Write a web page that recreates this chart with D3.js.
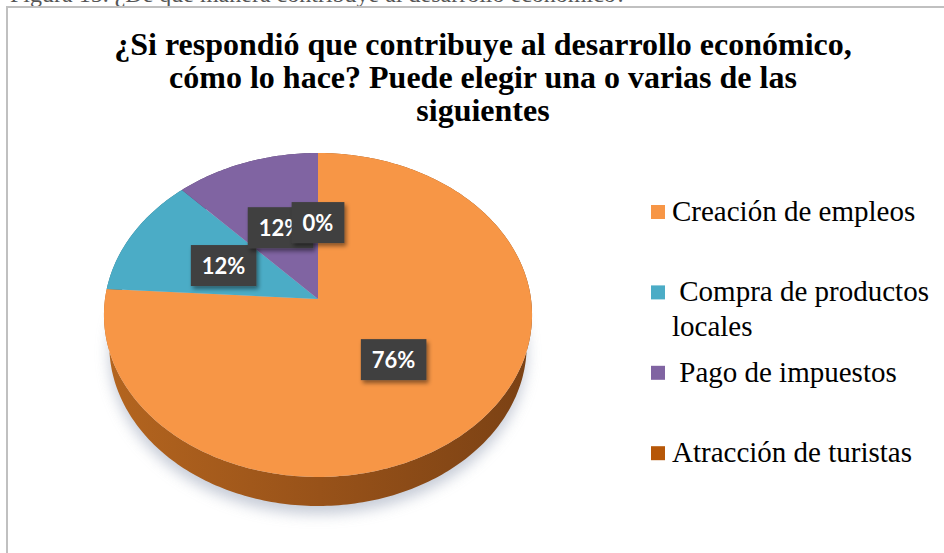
<!DOCTYPE html>
<html>
<head>
<meta charset="utf-8">
<script src="https://cdn.jsdelivr.net/npm/d3@7"></script>
<style>
  body { margin: 0; background: #fff; }
  svg { display: block; }
</style>
</head>
<body>
<div id="chart"></div>
<script>
// data
var categories = ["Creación de empleos", " Compra de productos locales", " Pago de impuestos", "Atracción de turistas"];
var values = [76, 12, 12, 0];
var colors = ["#F79646", "#4BACC6", "#8064A2", "#B65708"];
var titleLines = ["¿Si respondió que contribuye al desarrollo económico,", "cómo lo hace? Puede elegir una o varias de las", "siguientes"];
var captionText = "Figura 15. ¿De qué manera contribuye al desarrollo económico?";

var W = 944, H = 553;
var SERIF = "'Liberation Serif', 'Times New Roman', serif";

var svg = d3.select("#chart").append("svg")
  .attr("width", W).attr("height", H);

var defs = svg.append("defs");

// soft shadow under the pie
var fShadow = defs.append("filter").attr("id", "pieShadow")
  .attr("x", "-20%").attr("y", "-20%").attr("width", "140%").attr("height", "140%");
fShadow.append("feGaussianBlur").attr("stdDeviation", 7);

// drop shadow of the label boxes
var fBox = defs.append("filter").attr("id", "boxShadow")
  .attr("x", "-30%").attr("y", "-30%").attr("width", "160%").attr("height", "160%");
fBox.append("feDropShadow").attr("dx", 2).attr("dy", 3).attr("stdDeviation", 2)
  .attr("flood-color", "#000").attr("flood-opacity", 0.45);

var gWall = defs.append("linearGradient").attr("id", "wallGrad")
  .attr("gradientUnits", "userSpaceOnUse")
  .attr("x1", 105).attr("x2", 535).attr("y1", 0).attr("y2", 0);
gWall.append("stop").attr("offset", 0).attr("stop-color", "#b4651f");
gWall.append("stop").attr("offset", 0.5).attr("stop-color", "#985219");
gWall.append("stop").attr("offset", 1).attr("stop-color", "#7a4114");

// caption of the figure, cut off by the top of the picture
svg.append("text")
  .attr("x", 10).attr("y", 2)
  .style("font-family", SERIF)
  .style("font-size", "24px")
  .attr("fill", "#555")
  .text(captionText);

// chart area border
svg.append("rect")
  .attr("x", 7).attr("y", 7)
  .attr("width", 1200).attr("height", 1200)
  .attr("fill", "#fff")
  .attr("stroke", "#c0c0c0").attr("stroke-width", 2);

// title
svg.append("g").selectAll("text")
  .data(titleLines)
  .enter().append("text")
  .attr("x", 483)
  .attr("y", function(d, i) { return 55 + i * 33; })
  .attr("text-anchor", "middle")
  .style("font-family", SERIF)
  .style("font-weight", "bold")
  .style("font-size", "32px")
  .attr("fill", "#000")
  .text(function(d) { return d; });

// 3d pie: a disc seen from above in perspective
var P = {cx: 318, cy: 299, k: 213, sinA: 0.753, cosA: 0.658, rd: 0.15, depth: 0.224};

function project(theta, rho, h) {
  var u = rho * Math.sin(theta), v = rho * Math.cos(theta);
  var up = h * P.cosA + v * P.sinA;
  var z = 1 + (-h * P.sinA + v * P.cosA) * P.rd;
  return [P.cx + P.k * u / z, P.cy - P.k * up / z];
}

function arcPoints(a0, a1, h) {
  var n = Math.max(2, Math.ceil((a1 - a0) / (Math.PI / 180)));
  return d3.range(n + 1).map(function(i) { return project(a0 + (a1 - a0) * i / n, 1, h); });
}

var line = d3.line();
var arcs = d3.pie().sort(null).value(function(d) { return d; })(values);
var total = d3.sum(values);

var gPie = svg.append("g");

// shadow
gPie.append("path")
  .attr("d", line(arcPoints(0, 2 * Math.PI, -P.depth)) + "Z")
  .attr("transform", "translate(0,8)")
  .attr("fill", "#aeb6c6")
  .attr("opacity", 0.7)
  .attr("filter", "url(#pieShadow)");

// side walls (the back ones get covered by the top faces)
gPie.selectAll(".wall")
  .data(arcs.filter(function(d) { return d.endAngle > d.startAngle; }))
  .enter().append("path")
  .attr("class", "wall")
  .attr("d", function(d) {
    var top = arcPoints(d.startAngle, d.endAngle, 0);
    var bottom = arcPoints(d.startAngle, d.endAngle, -P.depth).reverse();
    return line(top.concat(bottom)) + "Z";
  })
  .attr("fill", function(d) { return d.index === 0 ? "url(#wallGrad)" : d3.color(colors[d.index]).darker(1.2); });

// top faces
gPie.selectAll(".top")
  .data(arcs.filter(function(d) { return d.endAngle > d.startAngle; }))
  .enter().append("path")
  .attr("class", "top")
  .attr("d", function(d) {
    return line([project(0, 0, 0)].concat(arcPoints(d.startAngle, d.endAngle, 0))) + "Z";
  })
  .attr("fill", function(d) { return colors[d.index]; });

// data labels
var gLabels = svg.append("g");
arcs.forEach(function(d) {
  var mid = (d.startAngle + d.endAngle) / 2;
  var p = project(mid, 0.5, 0);
  var g = gLabels.append("g").attr("transform", "translate(" + p[0] + "," + p[1] + ")");
  var rect = g.append("rect").attr("fill", "#404040").attr("filter", "url(#boxShadow)");
  var t = g.append("text")
    .attr("text-anchor", "middle")
    .attr("y", 8)
    .style("font-family", "Lato, 'Open Sans', sans-serif")
    .style("font-weight", "bold")
    .style("font-size", "22px")
    .attr("fill", "#fff")
    .text(Math.round(d.value / total * 100) + "%");
  var tw = t.node().getComputedTextLength() + 22;
  rect.attr("x", -tw / 2).attr("y", -20.5).attr("width", tw).attr("height", 41);
});

// legend
var gLegend = svg.append("g");
categories.forEach(function(name, i) {
  var y = 212 + i * 80.4;
  gLegend.append("rect")
    .attr("x", 651).attr("y", y - 7)
    .attr("width", 14).attr("height", 14)
    .attr("fill", colors[i]);
  var t = gLegend.append("text")
    .attr("x", 672).attr("y", y + 9)
    .style("font-family", SERIF)
    .style("font-size", "29px")
    .attr("fill", "#000")
    .style("white-space", "pre");
  // wrap long names onto a second line
  var lead = name.charAt(0) === " " ? " " : "";
  var words = name.split(" ").filter(function(w) { return w.length; });
  var lineWords = [], nLines = 0;
  var tspan = t.append("tspan").attr("x", 672);
  words.forEach(function(w) {
    lineWords.push(w);
    tspan.text((nLines ? "" : lead) + lineWords.join(" "));
    if (tspan.node().getComputedTextLength() > 262 && lineWords.length > 1) {
      lineWords.pop();
      tspan.text((nLines ? "" : lead) + lineWords.join(" "));
      nLines++;
      lineWords = [w];
      tspan = t.append("tspan").attr("x", 672).attr("dy", 35).text(w);
    }
  });
});
</script>
</body>
</html>
